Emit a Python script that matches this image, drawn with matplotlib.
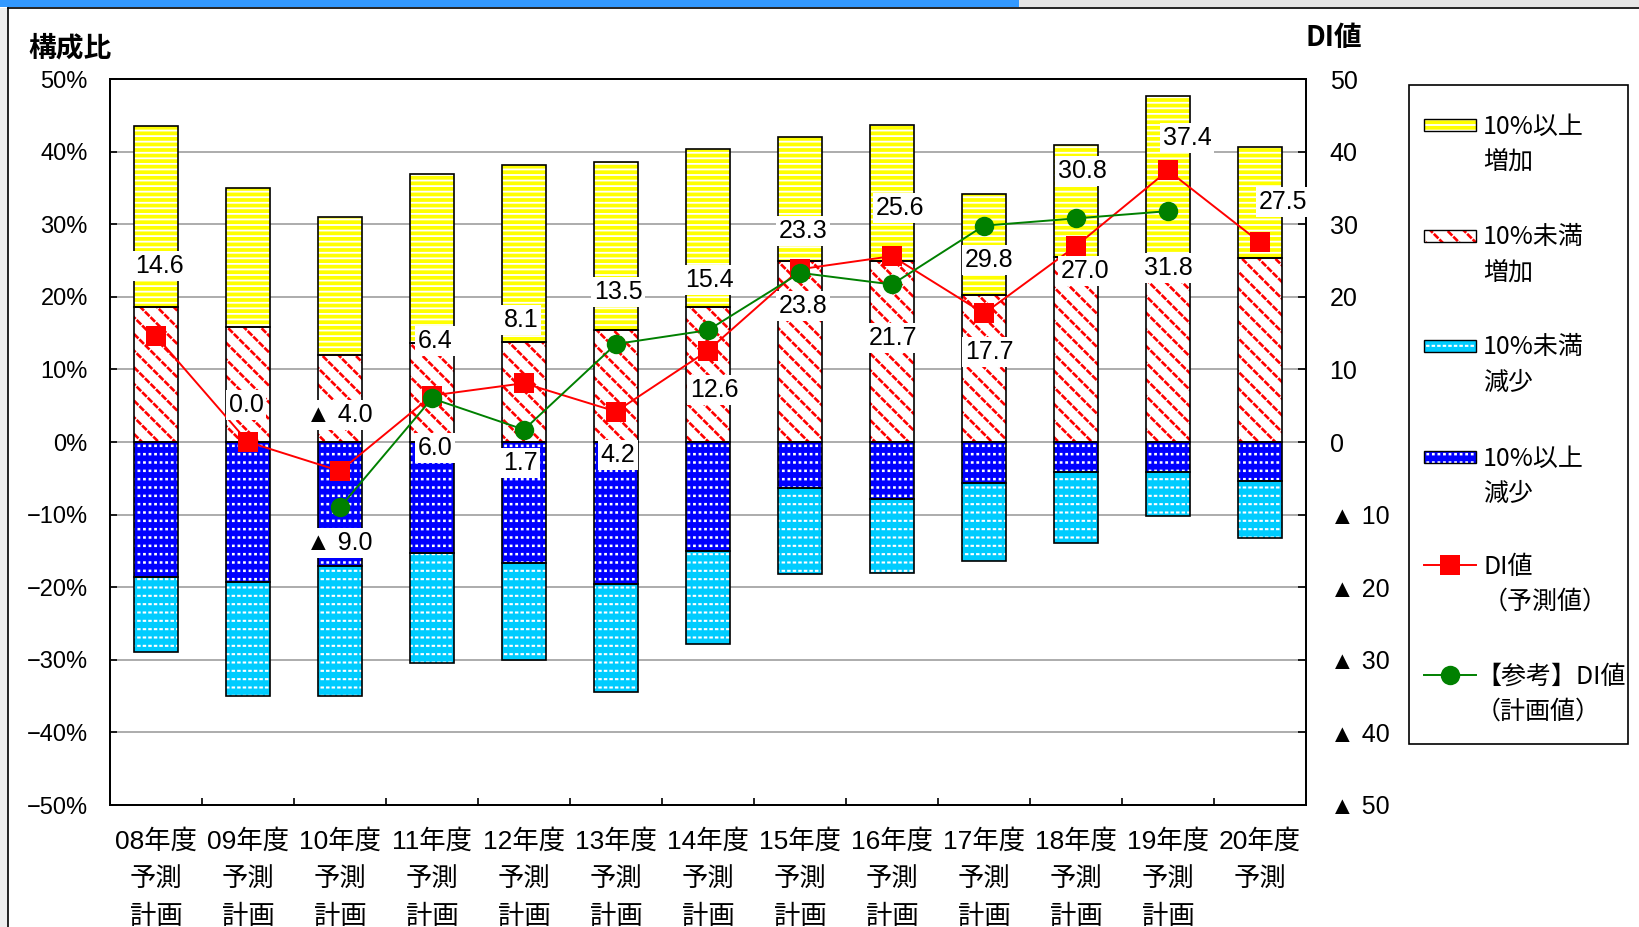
import numpy as np
import matplotlib
matplotlib.use('Agg')
import matplotlib.pyplot as plt
from matplotlib import font_manager
from matplotlib.patches import Rectangle
from matplotlib.lines import Line2D

# ---------------- data ----------------
years = ['08年度', '09年度', '10年度', '11年度', '12年度', '13年度', '14年度',
         '15年度', '16年度', '17年度', '18年度', '19年度', '20年度']
kinds = ['予測\n計画'] * 12 + ['予測']
inc_large = [24.9, 19.1, 19.0, 23.3, 24.3, 23.2, 21.8, 17.1, 18.7, 13.8, 15.4, 24.1, 15.4]
inc_small = [18.6, 15.9, 12.0, 13.6, 13.8, 15.4, 18.6, 24.9, 24.9, 20.3, 25.5, 23.5, 25.3]
dec_small = [10.3, 15.7, 17.9, 15.2, 13.3, 14.9, 12.8, 11.8, 10.2, 10.7, 9.8, 6.1, 7.8]
dec_large = [18.6, 19.3, 17.1, 15.3, 16.7, 19.5, 15.0, 6.4, 7.8, 5.7, 4.1, 4.1, 5.4]
di_forecast = [14.6, 0.0, -4.0, 6.4, 8.1, 4.2, 12.6, 23.8, 25.6, 17.7, 27.0, 37.4, 27.5]
di_plan = [np.nan, np.nan, -9.0, 6.0, 1.7, 13.5, 15.4, 23.3, 21.7, 29.8, 30.8, 31.8, np.nan]
legend_labels = ['10%以上\n増加', '10%未満\n増加', '10%未満\n減少', '10%以上\n減少',
                 'DI値\n（予測値）', '【参考】DI値\n（計画値）']

# label offsets (pixels: dx right, dy down) -- layout only
fc_off = [(3, -70), (-2, -37), (-1, -56), (3, -55), (-3, -63), (2, 43), (6, 39),
          (3, 37), (8, -48), (5, 39), (9, 25), (19, -32), (23, -40)]
pl_off = [None, None, (-1, 36), (3, 50), (-4, 33), (2, -52), (1, -50),
          (3, -42), (1, 54), (5, 34), (6, -47), (0, 57), None]

# ---------------- fonts ----------------
names = {f.name for f in font_manager.fontManager.ttflist}
NARROW = 'Liberation Sans Narrow' if 'Liberation Sans Narrow' in names else 'Liberation Sans'
JP = 'Noto Sans CJK JP'
plt.rcParams['font.family'] = [NARROW, JP, 'DejaVu Sans']
plt.rcParams['axes.unicode_minus'] = True

W, H = 1639, 927
fig = plt.figure(figsize=(W / 100, H / 100), dpi=100)
fig.patch.set_facecolor('white')

def fx(x):
    return x / W

def fy(y):
    return 1 - y / H

# page decorations
fig.add_artist(Rectangle((0, fy(7)), fx(1019), 7 / H, transform=fig.transFigure,
                         facecolor='#3399FF', edgecolor='none'))
fig.add_artist(Rectangle((fx(1019), fy(7)), 1 - fx(1019), 7 / H, transform=fig.transFigure,
                         facecolor='#E6E6E6', edgecolor='none'))
fig.add_artist(Rectangle((0, 0), fx(8), fy(8), transform=fig.transFigure,
                         facecolor='#EEEEEE', edgecolor='none'))
fig.add_artist(Line2D([fx(8), 1], [fy(8), fy(8)], transform=fig.transFigure, color='black', lw=1.2))
fig.add_artist(Line2D([fx(8), fx(8)], [0, fy(8)], transform=fig.transFigure, color='black', lw=1.2))

L, R, T, B = 110, 1306, 79, 805
ax = fig.add_axes([fx(L), fy(B), (R - L) / W, (B - T) / H])
ax2 = ax.twinx()

x = np.arange(len(years))
width = 0.47

styles = {
    'inc_large': ('#FFFF00', [('---', 'white', 1.3)]),
    'inc_small': ('white', [('\\\\', 'red', 1.9), ('///', 'white', 1.0)]),
    'dec_small': ('#00CCFF', [('--', 'white', 1.5), ('|||', '#00CCFF', 1.5)]),
    'dec_large': ('#0000FF', [('--', 'white', 1.8), ('|||', '#0000FF', 2.0)]),
}

def set_hlw(patches, lw):
    for p in patches:
        if hasattr(p, 'set_hatch_linewidth'):
            p.set_hatch_linewidth(lw)

def hatched_bar(xs, h, bottom, key):
    face, layers = styles[key]
    ax.bar(xs, h, width, bottom=bottom, color=face, linewidth=0, zorder=2)
    for k, (hatch, col, lw) in enumerate(layers):
        with plt.rc_context({'hatch.linewidth': lw}):
            bs = ax.bar(xs, h, width, bottom=bottom, facecolor='none', edgecolor=col,
                        hatch=hatch, linewidth=0, zorder=2.1 + 0.1 * k)
        set_hlw(bs.patches, lw)
    ax.bar(xs, h, width, bottom=bottom, facecolor='none', edgecolor='black',
           linewidth=1.2, zorder=2.5)

inc_small_a = np.array(inc_small)
dec_large_a = np.array(dec_large)
hatched_bar(x, inc_small_a, 0, 'inc_small')
hatched_bar(x, np.array(inc_large), inc_small_a, 'inc_large')
hatched_bar(x, -dec_large_a, 0, 'dec_large')
hatched_bar(x, -np.array(dec_small), -dec_large_a, 'dec_small')

ax.set_xlim(-0.5, len(years) - 0.5)
ax.set_ylim(-50, 50)
ax2.set_ylim(-50, 50)
ax.set_yticks(np.arange(-50, 51, 10))
ax.set_yticklabels([f'{v}%' if v >= 0 else f'−{-v}%' for v in range(-50, 51, 10)],
                   fontsize=17, family=[NARROW, JP])
ax2.set_yticks(np.arange(-50, 51, 10))
ax2.set_yticklabels([f'{v}' if v >= 0 else f'▲ {-v}' for v in range(-50, 51, 10)],
                    fontsize=18, family=[NARROW, JP])
ax.grid(axis='y', color='#A6A6A6', linewidth=1.3)
ax.set_axisbelow(True)

ax.set_xticks(np.arange(len(years) - 1) + 0.5)
ax.set_xticklabels([])
ax.set_xticks(x, minor=True)
ax.set_xticklabels([f'{y}\n{k}' for y, k in zip(years, kinds)], minor=True,
                   fontsize=19, family=[NARROW, JP], linespacing=1.72, va='top')
ax.tick_params(axis='x', which='major', direction='in', length=5, width=1.2)
ax.tick_params(axis='x', which='minor', length=0, pad=17)
ax.tick_params(axis='y', direction='in', length=5, width=1.2, pad=16)
ax2.tick_params(axis='y', direction='in', length=6, width=1.2, pad=17)
for a in (ax, ax2):
    for s in a.spines.values():
        s.set_linewidth(1.3)

# lines
ax2.plot(x, di_forecast, color='#FF0000', lw=1.4, marker='s', markersize=14,
         markeredgewidth=0, zorder=3)
ax2.plot(x, di_plan, color='#008000', lw=1.4, marker='o', markersize=14,
         markeredgewidth=0, zorder=3.1)

def fmt(v):
    return f'{v:.1f}' if v >= 0 else f'▲ {-v:.1f}'

bb = dict(boxstyle='square,pad=0.12', facecolor='white', edgecolor='none')
for i, v in enumerate(di_forecast):
    dx, dy = fc_off[i]
    ax2.annotate(fmt(v), (x[i], v), xytext=(dx / 1.389, -dy / 1.389), textcoords='offset points',
                 ha='center', va='center', fontsize=18, family=[NARROW, JP], bbox=bb, zorder=6)
for i, v in enumerate(di_plan):
    if np.isnan(v):
        continue
    dx, dy = pl_off[i]
    ax2.annotate(fmt(v), (x[i], v), xytext=(dx / 1.389, -dy / 1.389), textcoords='offset points',
                 ha='center', va='center', fontsize=18, family=[NARROW, JP], bbox=bb, zorder=6)

# axis titles
fig.text(fx(28), fy(48), '構成比', fontsize=20, fontweight='bold', family=JP, ha='left', va='center')
fig.text(fx(1305), fy(38), 'DI値', fontsize=20, fontweight='bold', family=JP, ha='left', va='center')

# legend (manual)
fig.add_artist(Rectangle((fx(1409), fy(744)), (1628 - 1409) / W, (744 - 85) / H,
                         transform=fig.transFigure, facecolor='white', edgecolor='black', lw=1.2))
rows = [125, 236, 346, 457, 565, 675]
keys = ['inc_large', 'inc_small', 'dec_small', 'dec_large']
for j, key in enumerate(keys):
    face, layers = styles[key]
    y0 = rows[j]
    rect = (fx(1424), fy(y0 + 6)), (1476 - 1424) / W, 12 / H
    fig.add_artist(Rectangle(*rect, transform=fig.transFigure, facecolor=face, edgecolor='none'))
    for hatch, col, lw in layers:
        with plt.rc_context({'hatch.linewidth': lw}):
            p = Rectangle(*rect, transform=fig.transFigure, facecolor='none', edgecolor=col,
                          hatch=hatch, linewidth=0)
        set_hlw([p], lw)
        fig.add_artist(p)
    fig.add_artist(Rectangle(*rect, transform=fig.transFigure, facecolor='none',
                             edgecolor='black', linewidth=1.0))
for j, (col, mk) in enumerate([('#FF0000', 's'), ('#008000', 'o')]):
    y0 = rows[4 + j]
    fig.add_artist(Line2D([fx(1424), fx(1476)], [fy(y0), fy(y0)], transform=fig.transFigure,
                          color=col, lw=1.4))
    fig.add_artist(Line2D([fx(1450)], [fy(y0)], transform=fig.transFigure, color=col,
                          marker=mk, markersize=14, markeredgewidth=0, linestyle='none'))
text_x = [1483, 1483, 1483, 1483, 1483, 1476]
for j, lab in enumerate(legend_labels):
    fig.text(fx(text_x[j]), fy(rows[j] + 19), lab, fontsize=18, family=JP, ha='left', va='center',
             linespacing=1.45)

fig.savefig('out.png', dpi=100)
